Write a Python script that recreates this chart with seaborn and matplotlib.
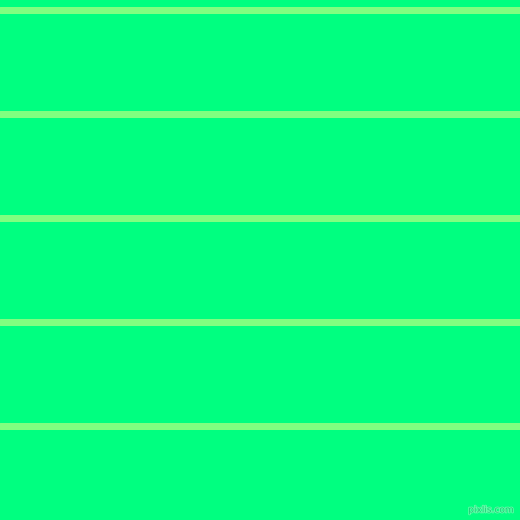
import numpy as np
import pandas as pd
import matplotlib
matplotlib.use("Agg")
import matplotlib.pyplot as plt
import matplotlib.patheffects as pe
import seaborn as sns

# posiciones de las lineas horizontales (pixeles desde arriba)
posiciones = [10, 114, 218, 322, 426]
fondo = "#00ff80"
color_linea = "#80ff80"

filas = []
for i, y in enumerate(posiciones):
    filas.append({"linea": i, "x": 0, "y": y})
    filas.append({"linea": i, "x": 520, "y": y})
df = pd.DataFrame(filas)

sns.set_style("white")
fig = plt.figure(figsize=(5.2, 5.2), dpi=100)
ax = fig.add_axes([0, 0, 1, 1])
ax.set_facecolor(fondo)
fig.patch.set_facecolor(fondo)

sns.lineplot(data=df, x="x", y="y", units="linea", estimator=None,
             color=color_linea, linewidth=7 * 72 / 100, ax=ax, legend=False)

ax.set_xlim(0, 520)
ax.set_ylim(520, 0)
ax.axis("off")

ax.text(514, 510, "pixlis.com", ha="right", va="center", fontsize=6.5,
        color="#20c878", family="DejaVu Sans",
        path_effects=[pe.withStroke(linewidth=1.2, foreground="#60ffa8")])

fig.savefig("out.png", dpi=100, facecolor=fondo)
